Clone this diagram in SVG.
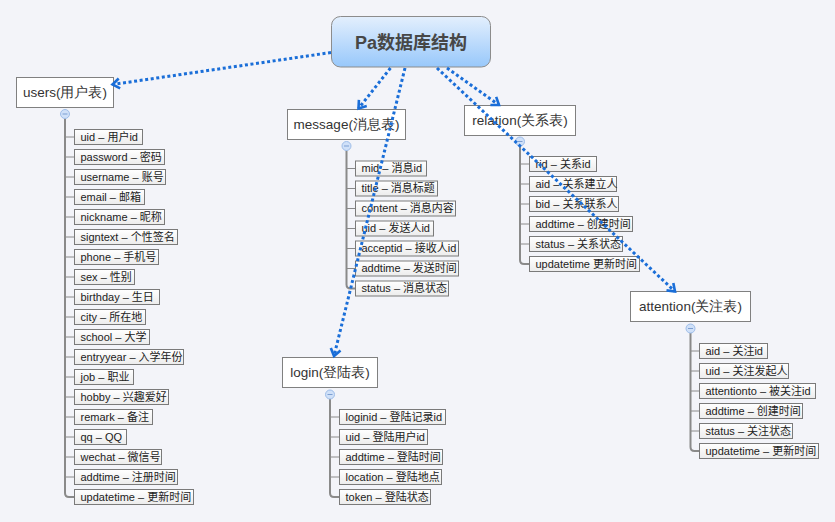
<svg xmlns="http://www.w3.org/2000/svg" width="835" height="522" viewBox="0 0 835 522">
<defs>
<linearGradient id="rootG" x1="0" y1="0" x2="0" y2="1">
<stop offset="0" stop-color="#e3effd"/>
<stop offset="1" stop-color="#98c8fb"/>
</linearGradient>
<linearGradient id="leafG" x1="0" y1="0" x2="0" y2="1">
<stop offset="0" stop-color="#ffffff"/>
<stop offset="1" stop-color="#ececec"/>
</linearGradient>
<marker id="arr" markerUnits="userSpaceOnUse" markerWidth="16" markerHeight="16" viewBox="-10 -8 12 16" refX="0" refY="0" orient="auto">
<path d="M-7,-5 L0,0 L-7,5" fill="none" stroke="#1a6ed8" stroke-width="2.6" stroke-linejoin="miter"/>
</marker>
<g id="coll"><circle r="4.5" fill="#cfe0f8" stroke="#9ebde9" stroke-width="1"/><line x1="-2.5" y1="0" x2="2.5" y2="0" stroke="#7d9fd2" stroke-width="1"/></g>
</defs>
<style>
.topic{fill:#ffffff;stroke:#808080;stroke-width:1}
.ttl{font-family:"Liberation Sans",Arial,sans-serif;font-size:13.5px;fill:#333333;text-anchor:middle}
.leaf{fill:url(#leafG);stroke:#7a7a7a;stroke-width:1}
.lt{font-family:"Liberation Sans",Arial,"Noto Sans CJK SC",sans-serif;font-size:11px;fill:#222222}
.trunk{fill:none;stroke:#8a8a8a;stroke-width:2}
.tick{fill:none;stroke:#8a8a8a;stroke-width:1}
.con{fill:none;stroke:#1a6ed8;stroke-width:3;stroke-dasharray:3 2.6;marker-end:url(#arr)}
</style>
<rect x="0" y="0" width="835" height="522" fill="#f3f4f9"/>

<g id="root">
<rect x="331.5" y="16.5" width="159" height="50.5" rx="9" fill="url(#rootG)" stroke="#8c8c8c" stroke-width="1"/>
<text x="411" y="49" style="font-family:'Liberation Sans','Noto Sans CJK SC',sans-serif;font-size:18px;font-weight:bold;fill:#474747" text-anchor="middle">Pa数据库结构</text>
</g>

<g id="users">
<rect class="topic" x="16.5" y="77.5" width="97" height="30"/>
<text class="ttl" x="65" y="97">users(用户表)</text>
<path class="trunk" d="M65,118.5 V493 Q65,497 69,497 H74.5"/>
<path class="tick" d="M65,137H74.5M65,157H74.5M65,177H74.5M65,197H74.5M65,217H74.5M65,237H74.5M65,257H74.5M65,277H74.5M65,297H74.5M65,317H74.5M65,337H74.5M65,357H74.5M65,377H74.5M65,397H74.5M65,417H74.5M65,437H74.5M65,457H74.5M65,477H74.5"/>
<use href="#coll" x="65" y="114"/>
<rect class="leaf" x="74.5" y="129.5" width="68" height="15"/><text class="lt" x="80.5" y="140.5">uid – 用户id</text>
<rect class="leaf" x="74.5" y="149.5" width="90" height="15"/><text class="lt" x="80.5" y="160.5">password – 密码</text>
<rect class="leaf" x="74.5" y="169.5" width="91" height="15"/><text class="lt" x="80.5" y="180.5">username – 账号</text>
<rect class="leaf" x="74.5" y="189.5" width="70" height="15"/><text class="lt" x="80.5" y="200.5">email – 邮箱</text>
<rect class="leaf" x="74.5" y="209.5" width="90" height="15"/><text class="lt" x="80.5" y="220.5">nickname – 昵称</text>
<rect class="leaf" x="74.5" y="229.5" width="103" height="15"/><text class="lt" x="80.5" y="240.5">signtext – 个性签名</text>
<rect class="leaf" x="74.5" y="249.5" width="84" height="15"/><text class="lt" x="80.5" y="260.5">phone – 手机号</text>
<rect class="leaf" x="74.5" y="269.5" width="60" height="15"/><text class="lt" x="80.5" y="280.5">sex – 性别</text>
<rect class="leaf" x="74.5" y="289.5" width="85" height="15"/><text class="lt" x="80.5" y="300.5">birthday – 生日</text>
<rect class="leaf" x="74.5" y="309.5" width="71" height="15"/><text class="lt" x="80.5" y="320.5">city – 所在地</text>
<rect class="leaf" x="74.5" y="329.5" width="75" height="15"/><text class="lt" x="80.5" y="340.5">school – 大学</text>
<rect class="leaf" x="74.5" y="349.5" width="109" height="15"/><text class="lt" x="80.5" y="360.5">entryyear – 入学年份</text>
<rect class="leaf" x="74.5" y="369.5" width="59" height="15"/><text class="lt" x="80.5" y="380.5">job – 职业</text>
<rect class="leaf" x="74.5" y="389.5" width="94" height="15"/><text class="lt" x="80.5" y="400.5">hobby – 兴趣爱好</text>
<rect class="leaf" x="74.5" y="409.5" width="78" height="15"/><text class="lt" x="80.5" y="420.5">remark – 备注</text>
<rect class="leaf" x="74.5" y="429.5" width="52" height="15"/><text class="lt" x="80.5" y="440.5">qq – QQ</text>
<rect class="leaf" x="74.5" y="449.5" width="87" height="15"/><text class="lt" x="80.5" y="460.5">wechat – 微信号</text>
<rect class="leaf" x="74.5" y="469.5" width="103" height="15"/><text class="lt" x="80.5" y="480.5">addtime – 注册时间</text>
<rect class="leaf" x="74.5" y="489.5" width="119" height="15"/><text class="lt" x="80.5" y="500.5">updatetime – 更新时间</text>
</g>

<g id="message">
<rect class="topic" x="287.5" y="109.5" width="118" height="30"/>
<text class="ttl" x="346.5" y="129">message(消息表)</text>
<path class="trunk" d="M346.5,150.5 V284.5 Q346.5,288.5 350.5,288.5 H355.5"/>
<path class="tick" d="M346.5,168.5H355.5M346.5,188.5H355.5M346.5,208.5H355.5M346.5,228.5H355.5M346.5,248.5H355.5M346.5,268.5H355.5"/>
<use href="#coll" x="346.5" y="146"/>
<rect class="leaf" x="355.5" y="161" width="71" height="15"/><text class="lt" x="361.5" y="172">mid – 消息id</text>
<rect class="leaf" x="355.5" y="181" width="82" height="15"/><text class="lt" x="361.5" y="192">title – 消息标题</text>
<rect class="leaf" x="355.5" y="201" width="100" height="15"/><text class="lt" x="361.5" y="212">content – 消息内容</text>
<rect class="leaf" x="355.5" y="221" width="78" height="15"/><text class="lt" x="361.5" y="232">uid – 发送人id</text>
<rect class="leaf" x="355.5" y="241" width="103" height="15"/><text class="lt" x="361.5" y="252">acceptid – 接收人id</text>
<rect class="leaf" x="355.5" y="261" width="103" height="15"/><text class="lt" x="361.5" y="272">addtime – 发送时间</text>
<rect class="leaf" x="355.5" y="281" width="93" height="15"/><text class="lt" x="361.5" y="292">status – 消息状态</text>
</g>

<g id="relation">
<rect class="topic" x="464.5" y="105.5" width="111" height="30"/>
<text class="ttl" x="520" y="125">relation(关系表)</text>
<path class="trunk" d="M520,146 V260 Q520,264 524,264 H529.5"/>
<path class="tick" d="M520,164H529.5M520,184H529.5M520,204H529.5M520,224H529.5M520,244H529.5"/>
<use href="#coll" x="520" y="141.5"/>
<rect class="leaf" x="529.5" y="156.5" width="67" height="15"/><text class="lt" x="535.5" y="167.5">rid – 关系id</text>
<rect class="leaf" x="529.5" y="176.5" width="87" height="15"/><text class="lt" x="535.5" y="187.5">aid – 关系建立人</text>
<rect class="leaf" x="529.5" y="196.5" width="89" height="15"/><text class="lt" x="535.5" y="207.5">bid – 关系联系人</text>
<rect class="leaf" x="529.5" y="216.5" width="103" height="15"/><text class="lt" x="535.5" y="227.5">addtime – 创建时间</text>
<rect class="leaf" x="529.5" y="236.5" width="93" height="15"/><text class="lt" x="535.5" y="247.5">status – 关系状态</text>
<rect class="leaf" x="529.5" y="256.5" width="110" height="15"/><text class="lt" x="535.5" y="267.5">updatetime 更新时间</text>
</g>

<g id="attention">
<rect class="topic" x="630.5" y="291.5" width="120" height="30"/>
<text class="ttl" x="690.5" y="311">attention(关注表)</text>
<path class="trunk" d="M690.5,333 V447 Q690.5,451 694.5,451 H699.5"/>
<path class="tick" d="M690.5,351H699.5M690.5,371H699.5M690.5,391H699.5M690.5,411H699.5M690.5,431H699.5"/>
<use href="#coll" x="690.5" y="328.5"/>
<rect class="leaf" x="699.5" y="343.5" width="68" height="15"/><text class="lt" x="705.5" y="354.5">aid – 关注id</text>
<rect class="leaf" x="699.5" y="363.5" width="89" height="15"/><text class="lt" x="705.5" y="374.5">uid – 关注发起人</text>
<rect class="leaf" x="699.5" y="383.5" width="116" height="15"/><text class="lt" x="705.5" y="394.5">attentionto – 被关注id</text>
<rect class="leaf" x="699.5" y="403.5" width="103" height="15"/><text class="lt" x="705.5" y="414.5">addtime – 创建时间</text>
<rect class="leaf" x="699.5" y="423.5" width="93" height="15"/><text class="lt" x="705.5" y="434.5">status – 关注状态</text>
<rect class="leaf" x="699.5" y="443.5" width="119" height="15"/><text class="lt" x="705.5" y="454.5">updatetime – 更新时间</text>
</g>

<g id="login">
<rect class="topic" x="282.5" y="357.5" width="95" height="30"/>
<text class="ttl" x="330" y="377">login(登陆表)</text>
<path class="trunk" d="M330,399 V493 Q330,497 334,497 H339.5"/>
<path class="tick" d="M330,417H339.5M330,437H339.5M330,457H339.5M330,477H339.5"/>
<use href="#coll" x="330" y="394.5"/>
<rect class="leaf" x="339.5" y="409.5" width="106" height="15"/><text class="lt" x="345.5" y="420.5">loginid – 登陆记录id</text>
<rect class="leaf" x="339.5" y="429.5" width="88" height="15"/><text class="lt" x="345.5" y="440.5">uid – 登陆用户id</text>
<rect class="leaf" x="339.5" y="449.5" width="103" height="15"/><text class="lt" x="345.5" y="460.5">addtime – 登陆时间</text>
<rect class="leaf" x="339.5" y="469.5" width="102" height="15"/><text class="lt" x="345.5" y="480.5">location – 登陆地点</text>
<rect class="leaf" x="339.5" y="489.5" width="91" height="15"/><text class="lt" x="345.5" y="500.5">token – 登陆状态</text>
</g>

<g id="connectors">
<path class="con" d="M331,52.5 L112.5,84.5"/>
<path class="con" d="M390.5,68 L358.5,108.5"/>
<path class="con" d="M405,68 L334,356"/>
<path class="con" d="M447,68 L499,105"/>
<path class="con" d="M437,68 L675,291.5"/>
</g>
</svg>
